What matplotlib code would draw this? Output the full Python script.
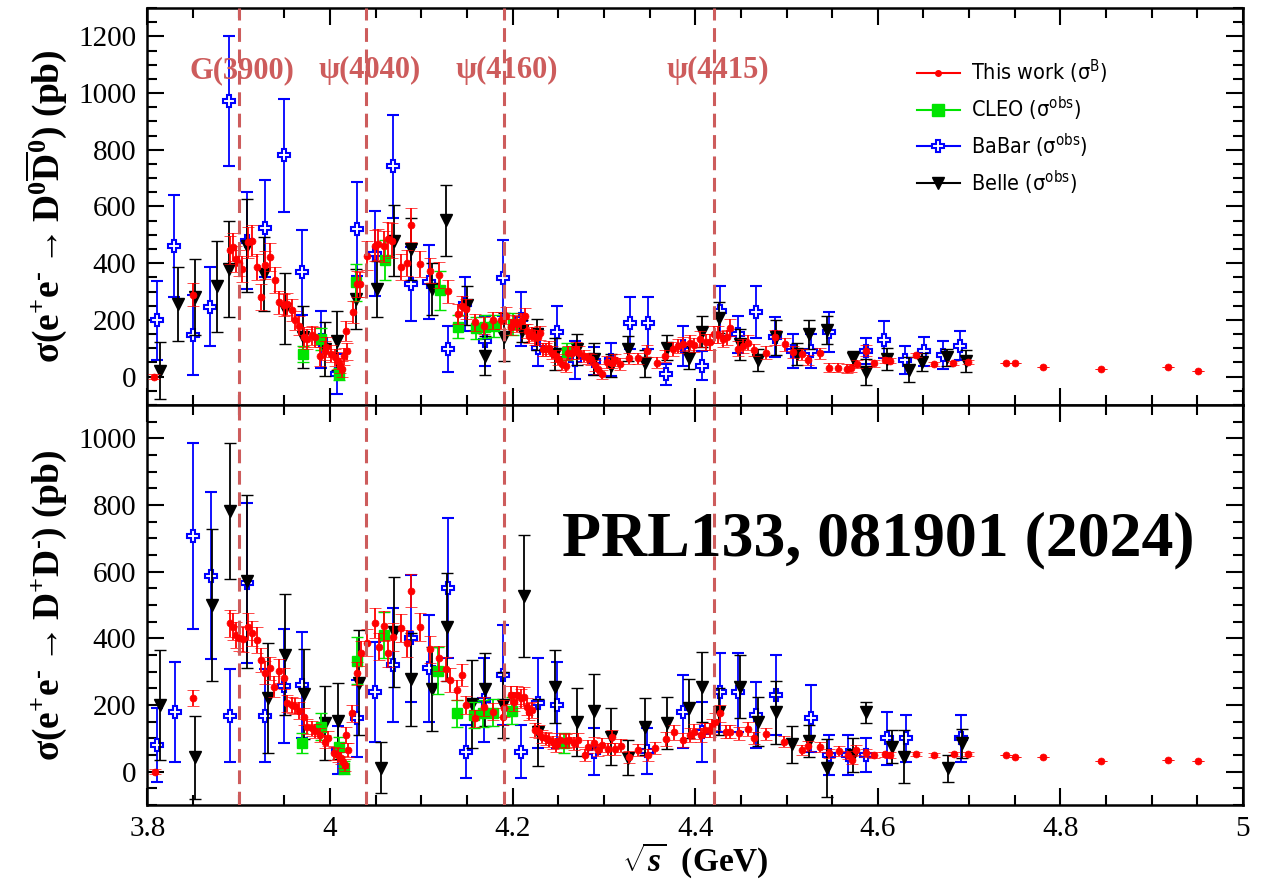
import matplotlib
matplotlib.use("Agg")
import matplotlib.pyplot as plt
import numpy as np
from matplotlib import font_manager
from matplotlib.lines import Line2D
from matplotlib.ticker import FuncFormatter, MultipleLocator

# -------------------------
# DATA: e+e- -> D0 D0bar (top panel)
# -------------------------
bes_neu_x = [3.807, 3.850, 3.890, 3.894, 3.897, 3.900, 3.904, 3.910, 3.914, 3.920,
             3.924, 3.929, 3.934, 3.940, 3.944, 3.949, 3.953, 3.958, 3.962, 3.966,
             3.971, 3.975, 3.980, 3.984, 3.989, 3.994, 3.996, 4.001, 4.005, 4.009,
             4.011, 4.013, 4.015, 4.017, 4.019, 4.025, 4.029, 4.033, 4.040, 4.049,
             4.053, 4.059, 4.064, 4.068, 4.078, 4.084, 4.089, 4.099, 4.109, 4.119,
             4.129, 4.140, 4.144, 4.149, 4.159, 4.169, 4.178, 4.187, 4.193, 4.198,
             4.201, 4.205, 4.209, 4.213, 4.216, 4.218, 4.221, 4.224, 4.228, 4.230,
             4.233, 4.237, 4.240, 4.243, 4.247, 4.250, 4.254, 4.258, 4.261, 4.265,
             4.269, 4.273, 4.278, 4.282, 4.286, 4.290, 4.293, 4.298, 4.303, 4.309,
             4.312, 4.318, 4.327, 4.337, 4.347, 4.358, 4.367, 4.376, 4.381, 4.387,
             4.394, 4.399, 4.405, 4.412, 4.416, 4.421, 4.425, 4.430, 4.435, 4.438,
             4.447, 4.452, 4.458, 4.464, 4.478, 4.487, 4.498, 4.507, 4.517, 4.524,
             4.537, 4.547, 4.556, 4.566, 4.571, 4.577, 4.587, 4.596, 4.608, 4.613,
             4.642, 4.662, 4.682, 4.699, 4.740, 4.750, 4.781, 4.844, 4.918, 4.951]
bes_neu_y = [0, 289, 447, 456, 415, 400, 380, 474, 480, 386,
             280, 394, 421, 341, 262, 253, 256, 235, 198, 180,
             139, 133, 145, 139, 71, 92, 104, 80, 68, 56,
             39, 27, 71, 160, 89, 228, 327, 325, 427, 462,
             466, 459, 486, 480, 386, 400, 533, 398, 374, 359,
             301, 221, 248, 239, 192, 180, 198, 198, 215, 174,
             191, 185, 196, 214, 161, 144, 149, 138, 138, 155,
             96, 96, 102, 85, 73, 61, 44, 38, 85, 85,
             99, 85, 73, 64, 61, 40, 28, 8, 52, 49,
             59, 44, 64, 64, 91, 49, 73, 96, 108, 114,
             120, 111, 132, 122, 122, 149, 147, 134, 138, 173,
             99, 108, 120, 93, 85, 138, 114, 87, 79, 59,
             82, 32, 32, 28, 31, 44, 91, 47, 59, 56,
             76, 45, 48, 51, 48, 48, 33, 27, 33, 21]
bes_neu_err = [8, 40, 50, 50, 45, 45, 45, 55, 55, 45,
               45, 50, 50, 45, 40, 40, 40, 38, 35, 35,
               35, 35, 35, 35, 35, 35, 35, 30, 30, 30,
               28, 28, 30, 35, 30, 40, 45, 45, 50, 55,
               55, 55, 60, 60, 45, 45, 60, 45, 45, 45,
               40, 35, 35, 35, 30, 30, 30, 30, 30, 28,
               28, 28, 28, 28, 25, 25, 25, 25, 25, 25,
               22, 22, 22, 22, 22, 20, 20, 20, 22, 22,
               22, 22, 22, 20, 20, 20, 18, 15, 20, 20,
               20, 20, 20, 20, 22, 20, 22, 25, 25, 25,
               25, 25, 28, 28, 28, 30, 30, 28, 28, 30,
               25, 25, 25, 22, 22, 25, 22, 20, 20, 18,
               20, 15, 15, 15, 15, 15, 20, 12, 10, 8,
               8, 6, 6, 6, 0, 0, 0, 0, 0, 0]

cleo_neu_x = [3.970, 3.990, 4.010, 4.028, 4.060, 4.120, 4.140, 4.160, 4.170, 4.180, 4.200, 4.260]
cleo_neu_y = [80, 133, 9, 333, 412, 304, 176, 171, 176, 179, 185, 88]
cleo_neu_err = [28, 38, 20, 65, 70, 70, 40, 40, 40, 40, 40, 30]

babar_neu_x = [3.810, 3.829, 3.850, 3.869, 3.889, 3.909, 3.929, 3.949, 3.969, 3.990,
               4.008, 4.029, 4.049, 4.069, 4.089, 4.108, 4.129, 4.148, 4.170, 4.189,
               4.209, 4.228, 4.249, 4.268, 4.289, 4.308, 4.328, 4.348, 4.368, 4.387,
               4.407, 4.427, 4.447, 4.467, 4.487, 4.507, 4.527, 4.547, 4.587, 4.607,
               4.630, 4.651, 4.671, 4.690]
babar_neu_y = [198, 462, 147, 247, 971, 480, 523, 780, 368, 130,
               9, 521, 433, 741, 327, 333, 98, 255, 127, 348,
               202, 102, 158, 59, 55, 59, 188, 188, 8, 108,
               39, 232, 149, 228, 140, 91, 91, 158, 90, 130,
               59, 89, 76, 109]
babar_neu_err = [140, 180, 140, 140, 230, 170, 170, 200, 150, 100,
                 70, 165, 150, 180, 130, 130, 80, 95, 88, 135,
                 95, 65, 90, 68, 50, 58, 92, 92, 38, 70,
                 50, 88, 66, 91, 70, 59, 60, 70, 47, 65,
                 50, 50, 50, 51]

belle_neu_x = [3.814, 3.833, 3.852, 3.876, 3.889, 3.909, 3.928, 3.951, 3.970, 3.994,
               4.008, 4.028, 4.051, 4.070, 4.089, 4.112, 4.127, 4.150, 4.170, 4.190,
               4.210, 4.227, 4.246, 4.270, 4.289, 4.308, 4.326, 4.345, 4.369, 4.393,
               4.407, 4.426, 4.449, 4.469, 4.488, 4.511, 4.525, 4.544, 4.573, 4.587,
               4.610, 4.634, 4.648, 4.676, 4.697]
belle_neu_y = [21, 256, 280, 318, 380, 462, 362, 239, 139, 98,
               127, 274, 309, 480, 451, 309, 551, 251, 74, 139,
               161, 149, 80, 96, 61, 38, 99, 47, 102, 67,
               158, 208, 114, 58, 138, 79, 149, 164, 64, 16,
               62, 25, 51, 68, 56]
belle_neu_err = [100, 130, 135, 160, 170, 165, 130, 125, 110, 95,
                 105, 105, 100, 125, 110, 90, 125, 70, 70, 85,
                 40, 55, 55, 54, 57, 40, 45, 47, 45, 40,
                 55, 55, 55, 38, 62, 38, 50, 48, 25, 45,
                 38, 44, 32, 30, 38]

# -------------------------
# DATA: e+e- -> D+ D- (bottom panel)
# -------------------------
bes_chg_x = [3.808, 3.850, 3.890, 3.894, 3.897, 3.900, 3.905, 3.910, 3.915, 3.920,
             3.924, 3.929, 3.934, 3.939, 3.944, 3.949, 3.953, 3.958, 3.962, 3.966,
             3.971, 3.975, 3.980, 3.984, 3.989, 3.994, 3.998, 4.004, 4.009, 4.012,
             4.014, 4.016, 4.018, 4.020, 4.024, 4.029, 4.034, 4.040, 4.049, 4.054,
             4.059, 4.064, 4.069, 4.078, 4.084, 4.089, 4.099, 4.109, 4.119, 4.127,
             4.131, 4.139, 4.144, 4.149, 4.159, 4.169, 4.179, 4.189, 4.190, 4.198,
             4.201, 4.205, 4.209, 4.212, 4.216, 4.218, 4.221, 4.225, 4.229, 4.232,
             4.237, 4.240, 4.244, 4.248, 4.252, 4.258, 4.262, 4.267, 4.272, 4.279,
             4.283, 4.289, 4.293, 4.298, 4.304, 4.309, 4.312, 4.319, 4.327, 4.337,
             4.348, 4.356, 4.368, 4.377, 4.387, 4.394, 4.399, 4.406, 4.411, 4.416,
             4.418, 4.422, 4.427, 4.434, 4.438, 4.448, 4.458, 4.464, 4.478, 4.497,
             4.517, 4.524, 4.537, 4.547, 4.557, 4.567, 4.572, 4.576, 4.587, 4.596,
             4.608, 4.613, 4.642, 4.662, 4.683, 4.699, 4.740, 4.750, 4.781, 4.844,
             4.918, 4.951]
bes_chg_y = [0, 220, 445, 435, 410, 400, 397, 435, 415, 395,
             335, 297, 310, 255, 302, 280, 205, 200, 197, 183,
             165, 135, 130, 122, 110, 90, 100, 55, 50, 40,
             30, 20, 110, 65, 175, 295, 355, 387, 447, 375,
             437, 355, 405, 430, 385, 543, 435, 367, 340, 308,
             275, 245, 290, 200, 160, 195, 180, 165, 190, 230,
             210, 230, 220, 225, 195, 180, 185, 125, 120, 105,
             100, 95, 88, 80, 95, 92, 95, 85, 95, 50,
             75, 85, 65, 80, 68, 105, 68, 78, 45, 65,
             50, 72, 98, 118, 95, 110, 120, 110, 125, 125,
             135, 150, 175, 120, 120, 115, 128, 100, 112, 90,
             65, 77, 73, 55, 62, 50, 35, 65, 55, 50,
             52, 50, 52, 50, 52, 52, 50, 45, 44, 32,
             34, 32]
bes_chg_err = [8, 24, 40, 40, 40, 38, 38, 40, 38, 38,
               35, 35, 35, 32, 35, 32, 25, 25, 25, 25,
               25, 22, 22, 22, 22, 20, 22, 20, 20, 18,
               18, 18, 25, 22, 25, 35, 38, 40, 45, 40,
               45, 40, 42, 42, 40, 50, 42, 40, 38, 35,
               35, 30, 32, 28, 25, 28, 25, 25, 25, 28,
               28, 28, 28, 28, 25, 25, 25, 20, 20, 20,
               20, 20, 20, 20, 20, 20, 20, 20, 20, 18,
               20, 20, 18, 20, 18, 20, 18, 20, 18, 18,
               18, 18, 20, 22, 20, 20, 22, 22, 22, 22,
               22, 25, 25, 20, 20, 20, 20, 18, 18, 16,
               15, 15, 15, 14, 14, 12, 12, 14, 12, 10,
               8, 8, 6, 6, 6, 6, 0, 0, 0, 0,
               0, 0]

cleo_chg_x = [3.969, 3.990, 4.010, 4.015, 4.029, 4.059, 4.118, 4.139, 4.158, 4.168, 4.179, 4.199, 4.256]
cleo_chg_y = [85, 135, 75, 12, 333, 410, 303, 175, 170, 175, 177, 183, 85]
cleo_chg_err = [30, 40, 30, 20, 70, 70, 70, 40, 40, 40, 40, 40, 30]

babar_chg_x = [3.810, 3.830, 3.850, 3.870, 3.890, 3.909, 3.929, 3.949, 3.969, 4.009,
               4.029, 4.049, 4.069, 4.089, 4.108, 4.129, 4.149, 4.169, 4.189, 4.209,
               4.228, 4.249, 4.289, 4.347, 4.387, 4.407, 4.427, 4.447, 4.467, 4.488,
               4.527, 4.547, 4.567, 4.587, 4.610, 4.631, 4.691]
babar_chg_y = [80, 179, 707, 588, 168, 567, 168, 257, 260, 65,
               160, 240, 320, 400, 310, 550, 60, 215, 290, 60,
               205, 200, 60, 62, 180, 120, 238, 238, 170, 230,
               160, 50, 50, 50, 100, 100, 100]
babar_chg_err = [110, 150, 280, 250, 140, 240, 140, 170, 160, 72,
                 115, 150, 170, 190, 160, 210, 80, 125, 150, 80,
                 135, 130, 70, 70, 110, 90, 118, 118, 100, 120,
                 100, 60, 60, 50, 80, 70, 70]

belle_chg_x = [3.814, 3.852, 3.871, 3.890, 3.909, 3.932, 3.951, 3.971, 3.994, 4.009,
               4.032, 4.056, 4.070, 4.089, 4.112, 4.128, 4.156, 4.170, 4.189, 4.212,
               4.228, 4.246, 4.270, 4.289, 4.308, 4.326, 4.345, 4.369, 4.393, 4.407,
               4.426, 4.449, 4.469, 4.488, 4.506, 4.525, 4.544, 4.573, 4.587, 4.615,
               4.629, 4.677, 4.692]
belle_chg_y = [200, 43, 500, 782, 571, 220, 351, 232, 147, 152,
               267, 12, 420, 277, 247, 433, 202, 247, 200, 528,
               118, 255, 150, 182, 105, 42, 135, 145, 190, 255,
               180, 255, 150, 178, 82, 92, 10, 50, 178, 75,
               45, 10, 85]
belle_chg_err = [165, 125, 227, 205, 259, 165, 181, 135, 111, 113,
                 157, 77, 165, 140, 126, 162, 132, 109, 100, 183,
                 100, 110, 102, 110, 86, 53, 85, 78, 88, 105,
                 70, 95, 74, 94, 55, 48, 87, 52, 31, 50,
                 80, 40, 43]

# resonances marked with dashed lines
res_names = ["G(3900)", "\u03c8(4040)", "\u03c8(4160)", "\u03c8(4415)"]
res_mass = [3.900, 4.039, 4.191, 4.421]

# -------------------------
# STYLE
# -------------------------
plt.rcParams["font.family"] = "Liberation Serif"
plt.rcParams["mathtext.fontset"] = "custom"
plt.rcParams["mathtext.rm"] = "Liberation Serif:bold"
plt.rcParams["mathtext.it"] = "Liberation Serif:bold:italic"
plt.rcParams["mathtext.bf"] = "Liberation Serif:bold"

# narrow sans for the legend if one is installed
legend_prop = {"family": "Liberation Sans", "size": 15}
for f in font_manager.fontManager.ttflist:
    if f.name == "Liberation Sans Narrow":
        legend_prop = {"family": "Liberation Sans Narrow", "size": 17}
        break
    if f.name == "DejaVu Sans" and f.stretch == "condensed" and f.weight in (400, "normal"):
        legend_prop = {"family": "DejaVu Sans", "stretch": "condensed", "size": 15.5}

c_bes = "#ff0000"
c_cleo = "#00e400"
c_babar = "#0000ff"
c_belle = "#000000"
c_res = "#cd5c5c"

fig = plt.figure(figsize=(12.78, 8.85), dpi=100)
ax_top = fig.add_axes([0.1154, 0.5424, 0.8572, 0.4486])
ax_bot = fig.add_axes([0.1154, 0.0904, 0.8572, 0.4520], sharex=ax_top)


def draw_set(ax, x, y, err, color, marker, ms, face, mew, zorder):
    ax.errorbar(x, y, yerr=err, fmt=marker, color=color, ms=ms, mfc=face, mec=color,
                mew=mew, elinewidth=1.3, capsize=4, capthick=1.3, zorder=zorder)


panels = [
    (ax_top, (babar_neu_x, babar_neu_y, babar_neu_err), (belle_neu_x, belle_neu_y, belle_neu_err),
     (cleo_neu_x, cleo_neu_y, cleo_neu_err), (bes_neu_x, bes_neu_y, bes_neu_err)),
    (ax_bot, (babar_chg_x, babar_chg_y, babar_chg_err), (belle_chg_x, belle_chg_y, belle_chg_err),
     (cleo_chg_x, cleo_chg_y, cleo_chg_err), (bes_chg_x, bes_chg_y, bes_chg_err)),
]

for ax, babar, belle, cleo, bes in panels:
    draw_set(ax, *babar, c_babar, "P", 8.5, "white", 1.5, 3)
    draw_set(ax, *belle, c_belle, "v", 9, c_belle, 1.0, 4)
    draw_set(ax, *cleo, c_cleo, "s", 7.5, c_cleo, 1.0, 5)
    draw_set(ax, *bes, c_bes, "o", 5, c_bes, 0.5, 6)
    for m in res_mass:
        ax.axvline(m, color=c_res, lw=2.2, dashes=(4.5, 2.5), zorder=8)

    ax.set_xlim(3.8, 5.0)
    ax.xaxis.set_major_locator(MultipleLocator(0.2))
    ax.xaxis.set_minor_locator(MultipleLocator(0.05))
    ax.yaxis.set_major_locator(MultipleLocator(200))
    ax.yaxis.set_minor_locator(MultipleLocator(50))
    ax.xaxis.set_major_formatter(FuncFormatter(lambda v, p: f"{v:g}"))
    ax.yaxis.set_major_formatter(FuncFormatter(lambda v, p: f"{v:g}"))
    ax.tick_params(which="both", direction="in", top=True, right=True, width=1.5,
                   labelsize=21, pad=8, labelfontfamily="Liberation Serif")
    ax.tick_params(which="major", length=12)
    ax.tick_params(which="minor", length=7)
    for s in ax.spines.values():
        s.set_linewidth(1.8)

ax_top.set_ylim(-100, 1300)
ax_bot.set_ylim(-100, 1100)
ax_top.tick_params(labelbottom=False)

ax_top.set_ylabel(r"$\mathregular{\sigma(e^{+}e^{\text{-}} \rightarrow D^{0}\overline{D}^{0})\ (pb)}$",
                  fontsize=27, fontweight="bold")
ax_bot.set_ylabel(r"$\mathregular{\sigma(e^{+}e^{\text{-}} \rightarrow D^{+}D^{\text{-}})\ (pb)}$",
                  fontsize=27, fontweight="bold")
ax_top.yaxis.set_label_coords(-0.072, 0.5)
ax_bot.yaxis.set_label_coords(-0.072, 0.5)

ax_bot.set_xlabel(r"$\sqrt{s}$  (GeV)", fontsize=24, fontweight="bold")
ax_bot.xaxis.set_label_coords(0.5, -0.09)

# resonance names above the data
label_pos = [3.904, 4.043, 4.194, 4.425]
for name, xp in zip(res_names, label_pos):
    ax_top.text(xp, 1080, name, color=c_res, fontsize=22, fontweight="bold",
                ha="center", va="center", zorder=7)

ax_bot.text(0.667, 0.6625, "PRL133, 081901 (2024)", transform=ax_bot.transAxes,
            ha="center", va="center", fontsize=46, fontweight="bold", zorder=9)

handles = [
    Line2D([], [], color=c_bes, marker="o", ms=4, lw=1.5),
    Line2D([], [], color=c_cleo, marker="s", ms=8, lw=1.5),
    Line2D([], [], color=c_babar, marker="P", ms=9, mfc="white", mew=1.5, lw=1.5),
    Line2D([], [], color=c_belle, marker="v", ms=9, lw=1.5),
]
labels = [
    r"This work ($\mathregular{\sigma^{B}}$)",
    r"CLEO ($\mathregular{\sigma^{obs}}$)",
    r"BaBar ($\mathregular{\sigma^{obs}}$)",
    r"Belle ($\mathregular{\sigma^{obs}}$)",
]
ax_top.legend(handles, labels, loc="upper left", bbox_to_anchor=(0.702, 0.874),
              frameon=False, borderpad=0, borderaxespad=0, handlelength=2.0,
              handletextpad=0.55, labelspacing=0.4, prop=legend_prop)

fig.savefig("out.png", dpi=100)
